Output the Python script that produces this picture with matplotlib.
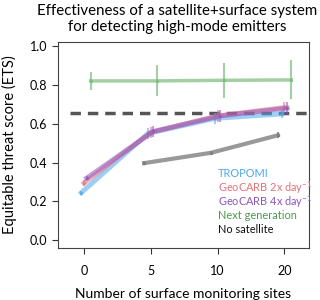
import numpy as np
import matplotlib
matplotlib.use("Agg")
from matplotlib import pyplot as plt

plt.rcParams['font.family'] = ['Lato', 'DejaVu Sans']
plt.rcParams['mathtext.default'] = 'regular'

sites = ['0', '5', '10', '20']
tropomi = [0.245, 0.55, 0.627, 0.65]
tropomi_err = [0.01, 0.03, 0.03, 0.02]
geo2 = [0.295, 0.555, 0.64, 0.683]
geo2_err = [0.015, 0.03, 0.03, 0.03]
geo4 = [0.32, 0.56, 0.64, 0.68]
geo4_err = [0.01, 0.03, 0.03, 0.03]
nextgen = [0.82, 0.82, 0.823, 0.825]
nextgen_err = [0.045, 0.08, 0.09, 0.1]
nosat = [0.397, 0.45, 0.54]
nosat_err = [0.01, 0.01, 0.015]
threshold = 0.653

fig = plt.figure(figsize=(3.2, 3.0), dpi=100)
ax = fig.add_axes([0.181, 0.173, 0.785, 0.687])
x = np.arange(len(sites))

series = [
    (tropomi, tropomi_err, '#4da6f0', -0.04),
    (geo2, geo2_err, '#e8717a', 0.0),
    (geo4, geo4_err, '#8e55c0', 0.04),
]
ax.axhline(threshold, xmin=0.05, xmax=1.0, color='#555555', ls=(0, (3, 2)), lw=2.5, zorder=1)
ax.errorbar(x + 0.1, nextgen, yerr=nextgen_err, color='#7bbd7b', alpha=0.7, lw=2.5,
            elinewidth=1.5, capsize=0, marker='.', ms=3, zorder=2)
ax.errorbar(x[1:] - 0.1, nosat, yerr=nosat_err, color='#808080', alpha=0.8, lw=3,
            elinewidth=1.5, capsize=0, marker='.', ms=3, zorder=2)
for vals, err, c, off in series:
    ax.errorbar(x + off, vals, yerr=err, color=c, alpha=0.55, lw=3.5,
                elinewidth=1.5, capsize=0, marker='.', ms=3, zorder=3)

labels = [('TROPOMI', '#4da6f0'), ('GeoCARB 2x day$^{-1}$', '#e8717a'),
          ('GeoCARB 4x day$^{-1}$', '#8e55c0'), ('Next generation', '#4a9a4a'),
          ('No satellite', '#111111')]
for i, (t, c) in enumerate(labels):
    ax.text(2.0, 0.342 - i * 0.0715, t, color=c, fontsize=7.9, va='center')

ax.set_xlim(-0.39, 3.37)
ax.set_ylim(-0.04, 1.02)
ax.set_xticks(x)
ax.set_xticklabels(sites)
ax.set_yticks([0, 0.2, 0.4, 0.6, 0.8, 1.0])
ax.set_yticklabels(['0.0', '0.2', '0.4', '0.6', '0.8', '1.0'])
ax.tick_params(labelsize=9, length=4, width=0.8, color='#333333')
ax.tick_params(axis='x', pad=8)
for s in ax.spines.values():
    s.set_color('#444444')
ax.set_xlabel('Number of surface monitoring sites', fontsize=10, labelpad=8)
ax.set_ylabel('Equitable threat score (ETS)', fontsize=10.5, labelpad=9)
fig.text(0.553, 0.985, 'Effectiveness of a satellite+surface system\nfor detecting high-mode emitters',
         fontsize=10.8, linespacing=1.15, ha='center', va='top')
fig.savefig('out.png', dpi=100)
